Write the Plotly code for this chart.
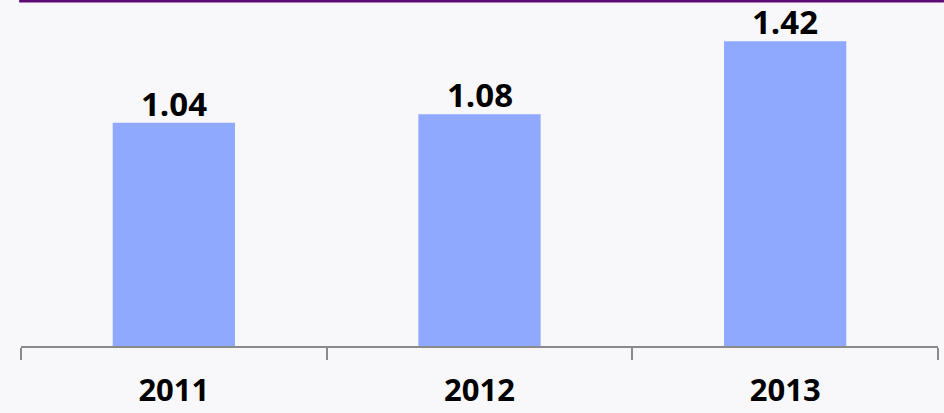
import plotly.graph_objects as go

years = ["2011", "2012", "2013"]
values = [1.04, 1.08, 1.42]
value_labels = ["1.04", "1.08", "1.42"]

label_font = dict(family="Open Sans", size=33, color="#000000", weight="bold")
tick_font = dict(family="Open Sans", size=31, color="#000000", weight="bold")

fig = go.Figure()
fig.add_trace(go.Bar(
    x=years, y=values,
    marker=dict(color="#8EA9FF", line=dict(width=0)),
    width=0.4, hoverinfo="skip",
))

annotations = [
    dict(x=i, y=v, xref="x", yref="y", text=lab, showarrow=False,
         yanchor="bottom", yshift=-5, font=label_font)
    for i, (v, lab) in enumerate(zip(values, value_labels))
]

fig.update_layout(
    width=944, height=413,
    margin=dict(l=21, r=6, t=3, b=67),
    paper_bgcolor="#F8F8FA", plot_bgcolor="#F8F8FA",
    showlegend=False,
    xaxis=dict(
        type="category", range=[-0.5, 2.5], automargin=False,
        showline=True, linecolor="#8A8A8A", linewidth=1.5,
        ticks="outside", tickson="boundaries", ticklen=12, tickwidth=2, tickcolor="#8A8A8A",
        tickfont=tick_font, ticklabelstandoff=16,
        showgrid=False, zeroline=False,
    ),
    yaxis=dict(range=[0, 1.5976], visible=False, showgrid=False, zeroline=False, automargin=False),
    annotations=annotations,
    shapes=[dict(type="line", xref="paper", yref="paper",
                 x0=-0.002, x1=1.0065, y0=1.0058, y1=1.0058,
                 line=dict(color="#5E0A75", width=3))],
)

fig.write_html("out.html", config={"displayModeBar": False},
               post_script="document.body.style.margin='0';document.body.style.overflow='hidden';")
